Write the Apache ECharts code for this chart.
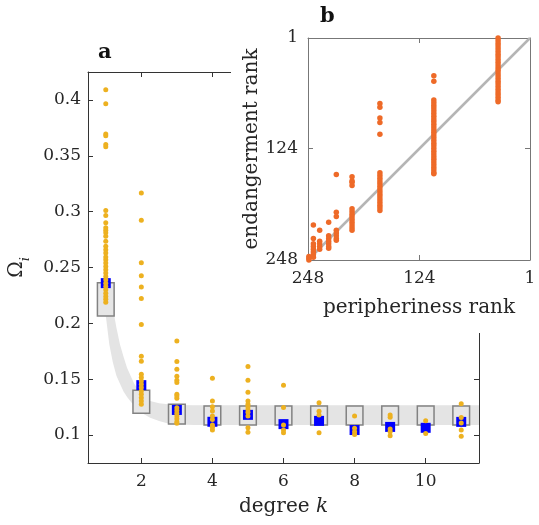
<!DOCTYPE html>
<html><head><meta charset="utf-8">
<script src="https://cdn.jsdelivr.net/npm/echarts@6/dist/echarts.min.js"></script>
<style>html,body{margin:0;padding:0;background:#fff}#c{width:539px;height:525px}</style>
</head><body><div id="c"></div><script>
// ---- panel a data ----
const degrees = [1,2,3,4,5,6,7,8,9,10,11];
const boxLow  = [0.2065,0.1195,0.1098,0.109,0.109,0.109,0.109,0.109,0.109,0.109,0.109];
const boxHigh = [0.2364,0.1402,0.1277,0.126,0.126,0.126,0.126,0.126,0.126,0.126,0.126];
const blueMean = [0.236,0.1447,0.1225,0.1119,0.1181,0.1098,0.1127,0.1045,0.1073,0.1065,0.1118];
const orangeK1 = [0.409,0.3965,0.3695,0.368,0.360,0.358,0.301,0.2965,0.290,0.2855,0.2833,0.281,0.278,0.2735,0.269,0.266,0.263,0.2595,0.257,0.254,0.251,0.248,0.245,0.242,0.239,0.236,0.233,0.230,0.227,0.224,0.2215,0.219];
const orangeK2 = [0.3167,0.2923,0.2542,0.2426,0.2325,0.2223,0.1989,0.1705,0.166,0.1545,0.1515,0.1485,0.1455,0.1425,0.1395,0.1365,0.1335,0.1305,0.1275];
const orangeK3 = [0.1842,0.1658,0.159,0.1527,0.149,0.147,0.1366,0.135,0.133,0.1245,0.122,0.1195,0.117,0.1145,0.112,0.1105];
const orangeK4 = [0.1509,0.1306,0.1253,0.1215,0.117,0.114,0.109,0.107,0.1045];
const orangeK5 = [0.1613,0.149,0.1384,0.1304,0.1277,0.1253,0.123,0.1205,0.117,0.1065,0.1025];
const orangeK6 = [0.1447,0.1247,0.109,0.1045,0.102];
const orangeK7 = [0.129,0.1214,0.1179,0.102];
const orangeK8 = [0.117,0.106,0.103,0.1005];
const orangeK9 = [0.118,0.116,0.1055,0.103,0.0995];
const orangeK10 = [0.1128,0.1015];
const orangeK11 = [0.128,0.1157,0.1108,0.1045,0.099];
const orangeByDegree = [orangeK1,orangeK2,orangeK3,orangeK4,orangeK5,orangeK6,orangeK7,orangeK8,orangeK9,orangeK10,orangeK11];
const bandK    = [1,1.1,1.2,1.3,1.4,1.5,1.6,1.8,2,2.25,2.5,2.75,3,3.5,4,5,6,7,8,9,10,11,11.5];
const bandLow  = [0.207,0.181,0.165,0.153,0.146,0.139,0.134,0.126,0.120,0.1155,0.1125,0.1104,0.1095,0.109,0.109,0.109,0.109,0.109,0.109,0.109,0.109,0.109,0.109];
const bandHigh = [0.236,0.232,0.214,0.196,0.181,0.170,0.160,0.146,0.137,0.1305,0.1285,0.1275,0.127,0.1268,0.1268,0.1268,0.1268,0.1268,0.1268,0.1268,0.1268,0.1268,0.1268];
const xTicks = [2,4,6,8,10];
const yTicks = [0.1,0.15,0.2,0.25,0.3,0.35,0.4];
// ---- panel b data ----
const insetTicks = [248,124,1];
const periphGroups = [36.5,108,168,199,216.5,225,235,242,247];
const endangerGroups = [
  [1,4,7,10,13,16,19,22,25,28,31,34,37,40,43,46,49,52,55,58,61,64,67,70,72],
  [43,49,70,73,76,79,82,85,88,91,94,97,100,103,106,109,112,115,118,121,124,127,130,133,136,139,142,145,148,151,152],
  [74,78,90,95,108,151,154,157,160,163,166,169,172,175,178,181,184,187,190,193],
  [155.5,160,161.5,165,191,194,197,200,203,206,209,212,215],
  [153,195,199.5,215,218,221,224,226],
  [206,221,224,227,230,233,235],
  [215,227,230,233,236],
  [209,224,230,233,236,239,242,245],
  [244,246,248]
];
const diagonal = [[248,248],[1,1]];

const F = 'DejaVu Serif';
const TXT = '#262626';
const insetPts = [];
periphGroups.forEach((p,i)=>endangerGroups[i].forEach(e=>insetPts.push([p,e])));
const orangePts = [];
degrees.forEach((k,i)=>orangeByDegree[i].forEach(v=>orangePts.push([k,v])));

const chart = echarts.init(document.getElementById('c'), null, {renderer:'canvas'});
const fmt = v => String(+(+v).toFixed(3));
const mainLine = {show:true, lineStyle:{color:'#333', width:1}};
const insetLine = {show:true, lineStyle:{color:'#777', width:1}};
chart.setOption({
  animation:false,
  backgroundColor:'#fff',
  grid:[
    {left:88, top:72, width:391, height:391, outerBoundsMode:'none'},
    {left:308, top:38, width:222, height:222, outerBoundsMode:'none', z:60}
  ],
  xAxis:[
    {gridIndex:0, type:'value', position:'bottom', min:0.5, max:11.5,
     axisLine:mainLine, splitLine:{show:false},
     axisTick:{show:true, inside:true, length:5, customValues:xTicks, lineStyle:{color:'#333'}},
     axisLabel:{customValues:xTicks, margin:10, fontSize:17, fontFamily:F, color:TXT},
     name:'{n|degree }{k|k}', nameLocation:'middle', nameGap:34,
     nameTextStyle:{rich:{n:{fontSize:20,fontFamily:F,color:TXT}, k:{fontSize:20,fontFamily:F,fontStyle:'italic',color:TXT}}}},
    {gridIndex:0, type:'value', position:'top', min:0.5, max:11.5,
     axisLine:mainLine, splitLine:{show:false},
     axisTick:{show:true, inside:true, length:5, customValues:xTicks, lineStyle:{color:'#333'}},
     axisLabel:{show:false}},
    {gridIndex:1, type:'value', position:'bottom', min:1, max:248, inverse:true, z:60,
     axisLine:insetLine, splitLine:{show:false},
     axisTick:{show:true, inside:true, length:5, customValues:[124], lineStyle:{color:'#777'}},
     axisLabel:{customValues:insetTicks, margin:10, fontSize:17, fontFamily:F, color:TXT},
     name:'peripheriness rank', nameLocation:'middle', nameGap:38,
     nameTextStyle:{fontSize:20, fontFamily:F, color:TXT}},
    {gridIndex:1, type:'value', position:'top', min:1, max:248, inverse:true, z:60,
     axisLine:insetLine, splitLine:{show:false},
     axisTick:{show:true, inside:true, length:5, customValues:[124], lineStyle:{color:'#777'}},
     axisLabel:{show:false}}
  ],
  yAxis:[
    {gridIndex:0, type:'value', position:'left', min:0.075, max:0.425,
     axisLine:mainLine, splitLine:{show:false},
     axisTick:{show:true, inside:true, length:5, customValues:yTicks, lineStyle:{color:'#333'}},
     axisLabel:{customValues:yTicks, formatter:fmt, margin:7, fontSize:17, fontFamily:F, color:TXT},
     name:'{o|Ω}{s|i}', nameLocation:'middle', nameRotate:90, nameGap:52,
     nameTextStyle:{rich:{o:{fontSize:20,fontFamily:F,color:TXT,verticalAlign:'bottom',padding:[0,0,5,0]},
                          s:{fontSize:13,fontFamily:F,fontStyle:'italic',color:TXT,verticalAlign:'bottom'}}}},
    {gridIndex:0, type:'value', position:'right', min:0.075, max:0.425,
     axisLine:mainLine, splitLine:{show:false},
     axisTick:{show:true, inside:true, length:5, customValues:yTicks, lineStyle:{color:'#333'}},
     axisLabel:{show:false}},
    {gridIndex:1, type:'value', position:'left', min:1, max:248, inverse:true, z:60,
     axisLine:insetLine, splitLine:{show:false},
     axisTick:{show:true, inside:true, length:5, customValues:[124], lineStyle:{color:'#777'}},
     axisLabel:{customValues:insetTicks, margin:10, fontSize:17, fontFamily:F, color:TXT},
     name:'endangerment rank', nameLocation:'middle', nameRotate:90, nameGap:45,
     nameTextStyle:{fontSize:20, fontFamily:F, color:TXT}},
    {gridIndex:1, type:'value', position:'right', min:1, max:248, inverse:true, z:60,
     axisLine:insetLine, splitLine:{show:false},
     axisTick:{show:true, inside:true, length:5, customValues:[124], lineStyle:{color:'#777'}},
     axisLabel:{show:false}}
  ],
  graphic:{elements:[
    {type:'rect', z:50, shape:{x:231, y:0, width:308, height:333}, style:{fill:'#fff'}},
    {type:'text', z:70, left:98, top:42, style:{text:'a', font:'bold 21px "DejaVu Serif"', fill:'#111'}},
    {type:'text', z:70, left:320, top:6, style:{text:'b', font:'bold 21px "DejaVu Serif"', fill:'#111'}}
  ]},
  series:[
    {type:'custom', xAxisIndex:0, yAxisIndex:0, z:1, silent:true, data:[[bandK[0], bandLow[0]]],
     renderItem:(params, api)=>{
       const pts = [];
       bandK.forEach((k,i)=>pts.push(api.coord([k, bandHigh[i]])));
       for (let i=bandK.length-1;i>=0;i--) pts.push(api.coord([bandK[i], bandLow[i]]));
       return {type:'polygon', shape:{points:pts}, style:{fill:'#e4e4e4', stroke:null}};
     }},
    {type:'custom', xAxisIndex:0, yAxisIndex:0, z:2, silent:true,
     data:degrees.map((k,i)=>[k, boxLow[i], boxHigh[i]]), encode:{x:0, y:[1,2]},
     renderItem:(params, api)=>{
       const k = api.value(0);
       const p1 = api.coord([k-0.235, api.value(2)]);
       const p2 = api.coord([k+0.235, api.value(1)]);
       return {type:'rect', shape:{x:p1[0], y:p1[1], width:p2[0]-p1[0], height:p2[1]-p1[1]},
               style:{fill:'#e6e6e6', stroke:'#828282', lineWidth:1.5}};
     }},
    {type:'scatter', xAxisIndex:0, yAxisIndex:0, z:3, symbol:'rect', symbolSize:10,
     itemStyle:{color:'#0000ff', opacity:1}, data:degrees.map((k,i)=>[k, blueMean[i]])},
    {type:'scatter', xAxisIndex:0, yAxisIndex:0, z:4, symbol:'circle', symbolSize:5,
     itemStyle:{color:'#EDB120', opacity:1}, data:orangePts},
    {type:'line', xAxisIndex:2, yAxisIndex:2, z:61, symbol:'none', silent:true,
     lineStyle:{color:'#b5b5b5', width:2.5}, data:diagonal},
    {type:'scatter', xAxisIndex:2, yAxisIndex:2, z:62, symbol:'circle', symbolSize:5.5,
     itemStyle:{color:'#EE6A28', opacity:1}, data:insetPts}
  ]
});
</script></body></html>
